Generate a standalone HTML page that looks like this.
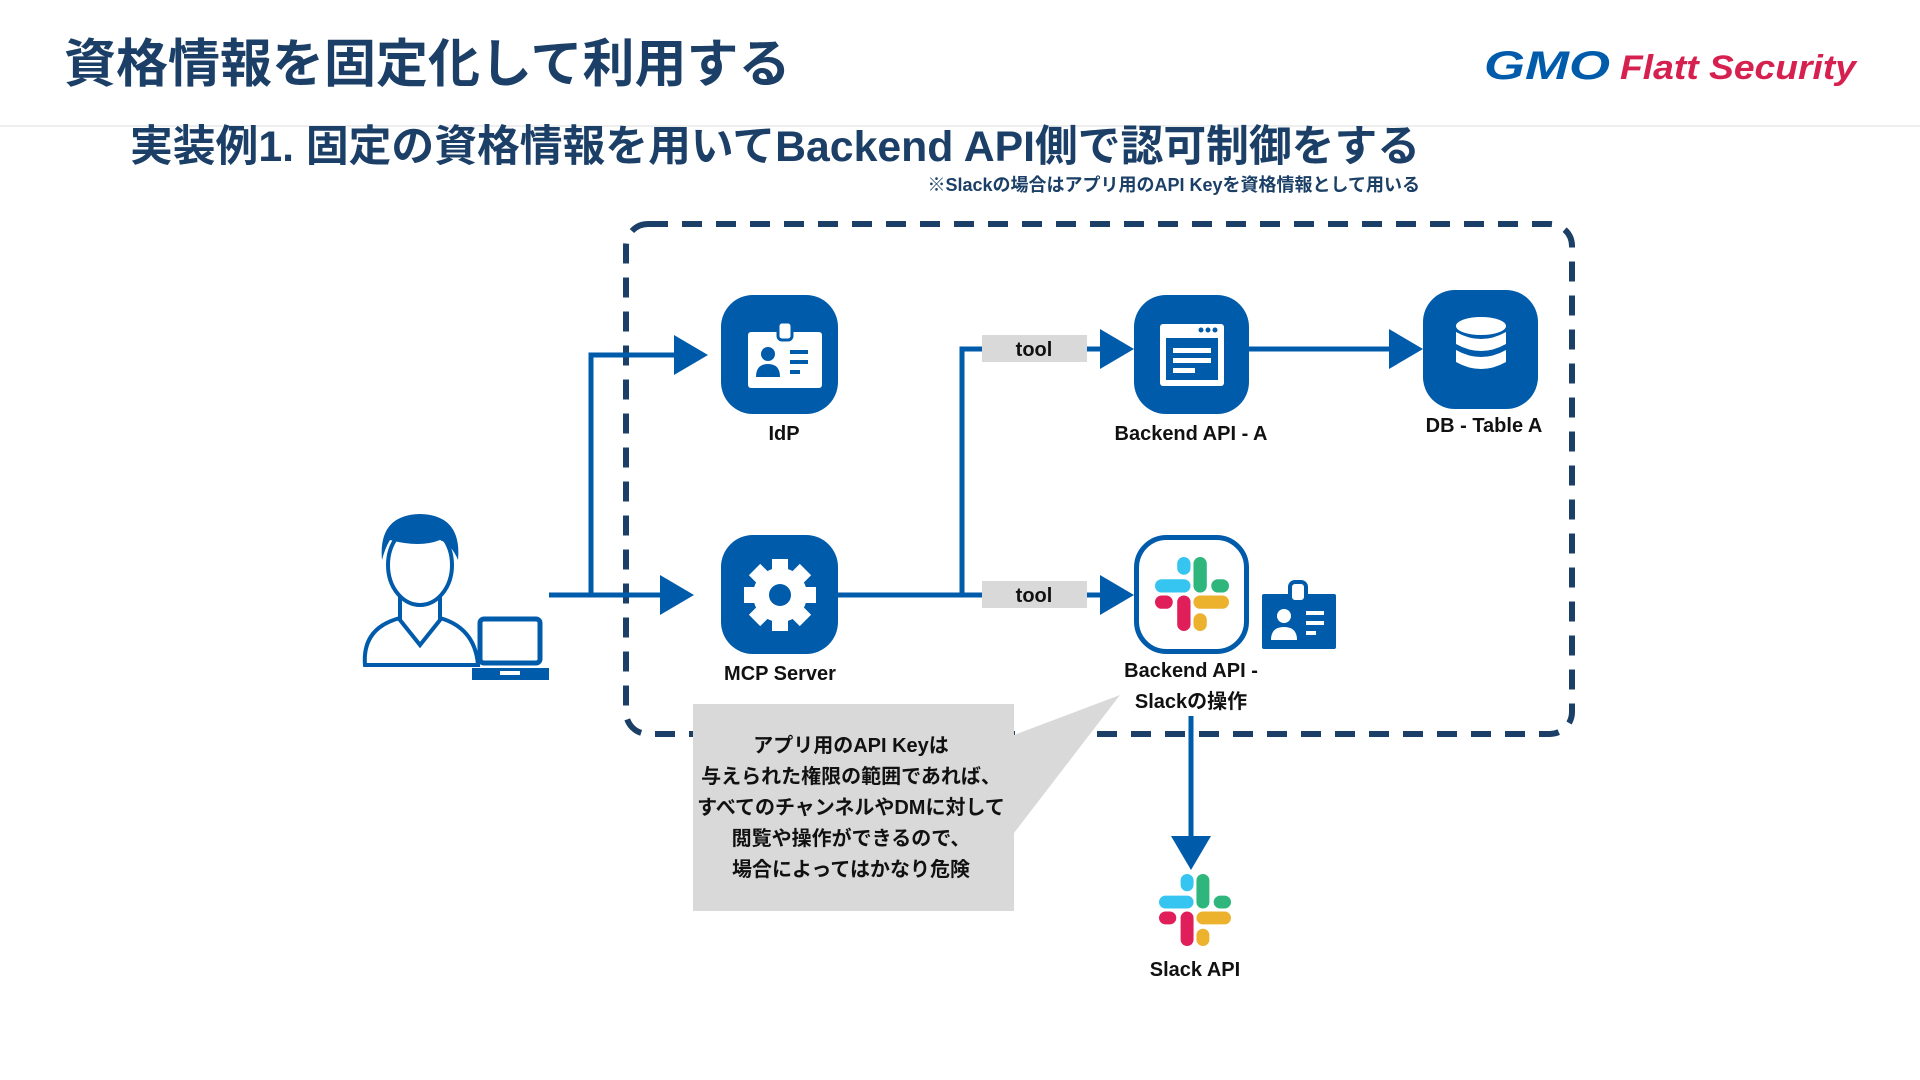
<!DOCTYPE html>
<html><head><meta charset="utf-8"><style>
html,body{margin:0;padding:0;background:#fff;}
svg{display:block;}
text{font-family:"Liberation Sans","Noto Sans CJK JP",sans-serif;font-weight:bold;}
</style></head><body>
<svg width="1920" height="1080" viewBox="0 0 1920 1080" xmlns="http://www.w3.org/2000/svg">
<defs>
<g id="slack">
<rect x="0" y="30" width="48" height="18" rx="9" fill="#36C5F0"/>
<rect x="30" y="0" width="18" height="24" rx="9" fill="#36C5F0"/>
<rect x="52" y="0" width="18" height="48" rx="9" fill="#2EB67D"/>
<rect x="76" y="30" width="24" height="18" rx="9" fill="#2EB67D"/>
<rect x="0" y="52" width="24" height="18" rx="9" fill="#E01E5A"/>
<rect x="30" y="52" width="18" height="48" rx="9" fill="#E01E5A"/>
<rect x="52" y="52" width="48" height="18" rx="9" fill="#ECB22E"/>
<rect x="52" y="76" width="18" height="24" rx="9" fill="#ECB22E"/>
</g>
<g id="badge">
<rect x="0" y="10" width="74" height="56" rx="3" fill="#fff"/>
<rect x="30" y="0" width="14" height="18" rx="4" fill="#fff" stroke="#005bab" stroke-width="3"/>
<circle cx="20" cy="32" r="7" fill="#005bab"/>
<path d="M8 55 Q8 42 20 42 Q32 42 32 55 Z" fill="#005bab"/>
<rect x="42" y="28" width="18" height="4" fill="#005bab"/>
<rect x="42" y="38" width="18" height="4" fill="#005bab"/>
<rect x="42" y="48" width="10" height="4" fill="#005bab"/>
</g>
</defs>

<!-- header -->
<text x="64" y="82" font-size="52" fill="#1b3f66">資格情報を固定化して利用する</text>
<line x1="0" y1="126" x2="1920" y2="126" stroke="#eeeeee" stroke-width="2"/>
<text x="1484" y="79" font-size="40" fill="#005bab" font-style="italic" textLength="126" lengthAdjust="spacingAndGlyphs">GMO</text>
<text x="1620" y="79" font-size="34" fill="#d6204f" font-style="italic" textLength="236" lengthAdjust="spacingAndGlyphs">Flatt Security</text>
<text x="130" y="161" font-size="43" fill="#1b3f66" textLength="1290" lengthAdjust="spacingAndGlyphs">実装例1. 固定の資格情報を用いてBackend API側で認可制御をする</text>
<text x="1420" y="191" font-size="18" fill="#1b3f66" text-anchor="end">※Slackの場合はアプリ用のAPI Keyを資格情報として用いる</text>

<!-- dashed box -->
<rect x="626" y="224" width="946" height="510" rx="22" fill="none" stroke="#1b3f66" stroke-width="6" stroke-dasharray="20 14"/>

<!-- connectors -->
<g stroke="#005bab" stroke-width="5" fill="none">
<polyline points="549,595 680,595"/>
<polyline points="591,595 591,355 680,355"/>
<polyline points="838,595 982,595"/>
<polyline points="962,595 962,349 982,349"/>
<polyline points="1087,349 1105,349"/>
<polyline points="1087,595 1105,595"/>
<polyline points="1249,349 1395,349"/>
<polyline points="1191,716 1191,840"/>
</g>
<g fill="#005bab">
<polygon points="660,575 694,595 660,615"/>
<polygon points="674,335 708,355 674,375"/>
<polygon points="1100,329 1134,349 1100,369"/>
<polygon points="1100,575 1134,595 1100,615"/>
<polygon points="1389,329 1423,349 1389,369"/>
<polygon points="1171,836 1191,870 1211,836"/>
</g>
<rect x="982" y="335" width="105" height="27" fill="#d9d9d9"/>
<text x="1034" y="356" font-size="20" fill="#111" text-anchor="middle">tool</text>
<rect x="982" y="581" width="105" height="27" fill="#d9d9d9"/>
<text x="1034" y="602" font-size="20" fill="#111" text-anchor="middle">tool</text>

<!-- IdP -->
<rect x="721" y="295" width="117" height="119" rx="32" fill="#005bab"/>
<use href="#badge" x="748" y="322"/>
<text x="784" y="440" font-size="20" fill="#111" text-anchor="middle">IdP</text>

<!-- MCP -->
<rect x="721" y="535" width="117" height="119" rx="32" fill="#005bab"/>
<g transform="translate(780,595)" fill="#fff">
<rect x="-8" y="-36" width="16" height="72"/>
<rect x="-8" y="-36" width="16" height="72" transform="rotate(45)"/>
<rect x="-8" y="-36" width="16" height="72" transform="rotate(90)"/>
<rect x="-8" y="-36" width="16" height="72" transform="rotate(135)"/>
<circle r="27"/>
<circle r="11" fill="#005bab"/>
</g>
<text x="780" y="680" font-size="20" fill="#111" text-anchor="middle">MCP Server</text>

<!-- Backend A -->
<rect x="1134" y="295" width="115" height="119" rx="32" fill="#005bab"/>
<rect x="1160" y="324" width="64" height="62" rx="3" fill="#fff"/>
<rect x="1166" y="338" width="52" height="42" fill="#005bab"/>
<circle cx="1201" cy="330" r="2.5" fill="#005bab"/><circle cx="1208" cy="330" r="2.5" fill="#005bab"/><circle cx="1215" cy="330" r="2.5" fill="#005bab"/>
<rect x="1173" y="348" width="38" height="5" fill="#fff"/>
<rect x="1173" y="358" width="38" height="5" fill="#fff"/>
<rect x="1173" y="368" width="22" height="5" fill="#fff"/>
<text x="1191" y="440" font-size="20" fill="#111" text-anchor="middle">Backend API - A</text>

<!-- DB -->
<rect x="1423" y="290" width="115" height="119" rx="32" fill="#005bab"/>
<g fill="#fff">
<ellipse cx="1481" cy="326" rx="25" ry="9"/>
<path d="M1456 332 Q1481 346 1506 332 L1506 344 Q1481 358 1456 344 Z"/>
<path d="M1456 350 Q1481 364 1506 350 L1506 362 Q1481 376 1456 362 Z"/>
</g>
<text x="1484" y="432" font-size="20" fill="#111" text-anchor="middle">DB - Table A</text>

<!-- Slack backend -->
<rect x="1136.5" y="537.5" width="110" height="114" rx="30" fill="#fff" stroke="#005bab" stroke-width="5"/>
<use href="#slack" transform="translate(1155,557) scale(0.74)"/>
<rect x="1262" y="594" width="74" height="55" rx="2" fill="#005bab"/>
<rect x="1290" y="582" width="16" height="20" rx="5" fill="#fff" stroke="#005bab" stroke-width="4"/>
<circle cx="1284" cy="616" r="7" fill="#fff"/>
<path d="M1271 640 Q1271 627 1284 627 Q1297 627 1297 640 Z" fill="#fff"/>
<rect x="1306" y="611" width="18" height="4" fill="#fff"/>
<rect x="1306" y="621" width="18" height="4" fill="#fff"/>
<rect x="1306" y="631" width="10" height="4" fill="#fff"/>
<text x="1191" y="677" font-size="20" fill="#111" text-anchor="middle">Backend API -</text>
<text x="1191" y="708" font-size="20" fill="#111" text-anchor="middle">Slackの操作</text>

<!-- Slack API -->
<use href="#slack" transform="translate(1159,874) scale(0.72)"/>
<text x="1195" y="976" font-size="20" fill="#111" text-anchor="middle">Slack API</text>

<!-- callout -->
<polygon points="1014,735 1120,695 1014,833" fill="#d9d9d9"/>
<rect x="693" y="704" width="321" height="207" fill="#d9d9d9"/>
<g font-size="20" fill="#111" text-anchor="middle">
<text x="851" y="752">アプリ用のAPI Keyは</text>
<text x="851" y="783">与えられた権限の範囲であれば、</text>
<text x="851" y="814">すべてのチャンネルやDMに対して</text>
<text x="851" y="845">閲覧や操作ができるので、</text>
<text x="851" y="876">場合によってはかなり危険</text>
</g>

<!-- person -->
<g stroke="#005bab" stroke-width="4" fill="#fff">
<path d="M365 665 Q362 628 400 618 L420 612 L440 618 Q475 628 478 665 Z"/>
<path d="M400 590 L400 620 L420 645 L440 620 L440 590 Z"/>
<ellipse cx="420" cy="565" rx="32" ry="40"/>
</g>
<path d="M382 560 Q378 515 420 514 Q462 515 458 560 Q452 545 440 540 Q420 548 390 540 Q385 548 382 560 Z" fill="#005bab"/>
<rect x="480" y="619" width="60" height="44" rx="4" fill="#fff" stroke="#005bab" stroke-width="5"/>
<path d="M472 668 L549 668 L549 680 L472 680 Z" fill="#005bab"/>
<rect x="500" y="671" width="20" height="4" fill="#fff"/>
</svg>
</body></html>
